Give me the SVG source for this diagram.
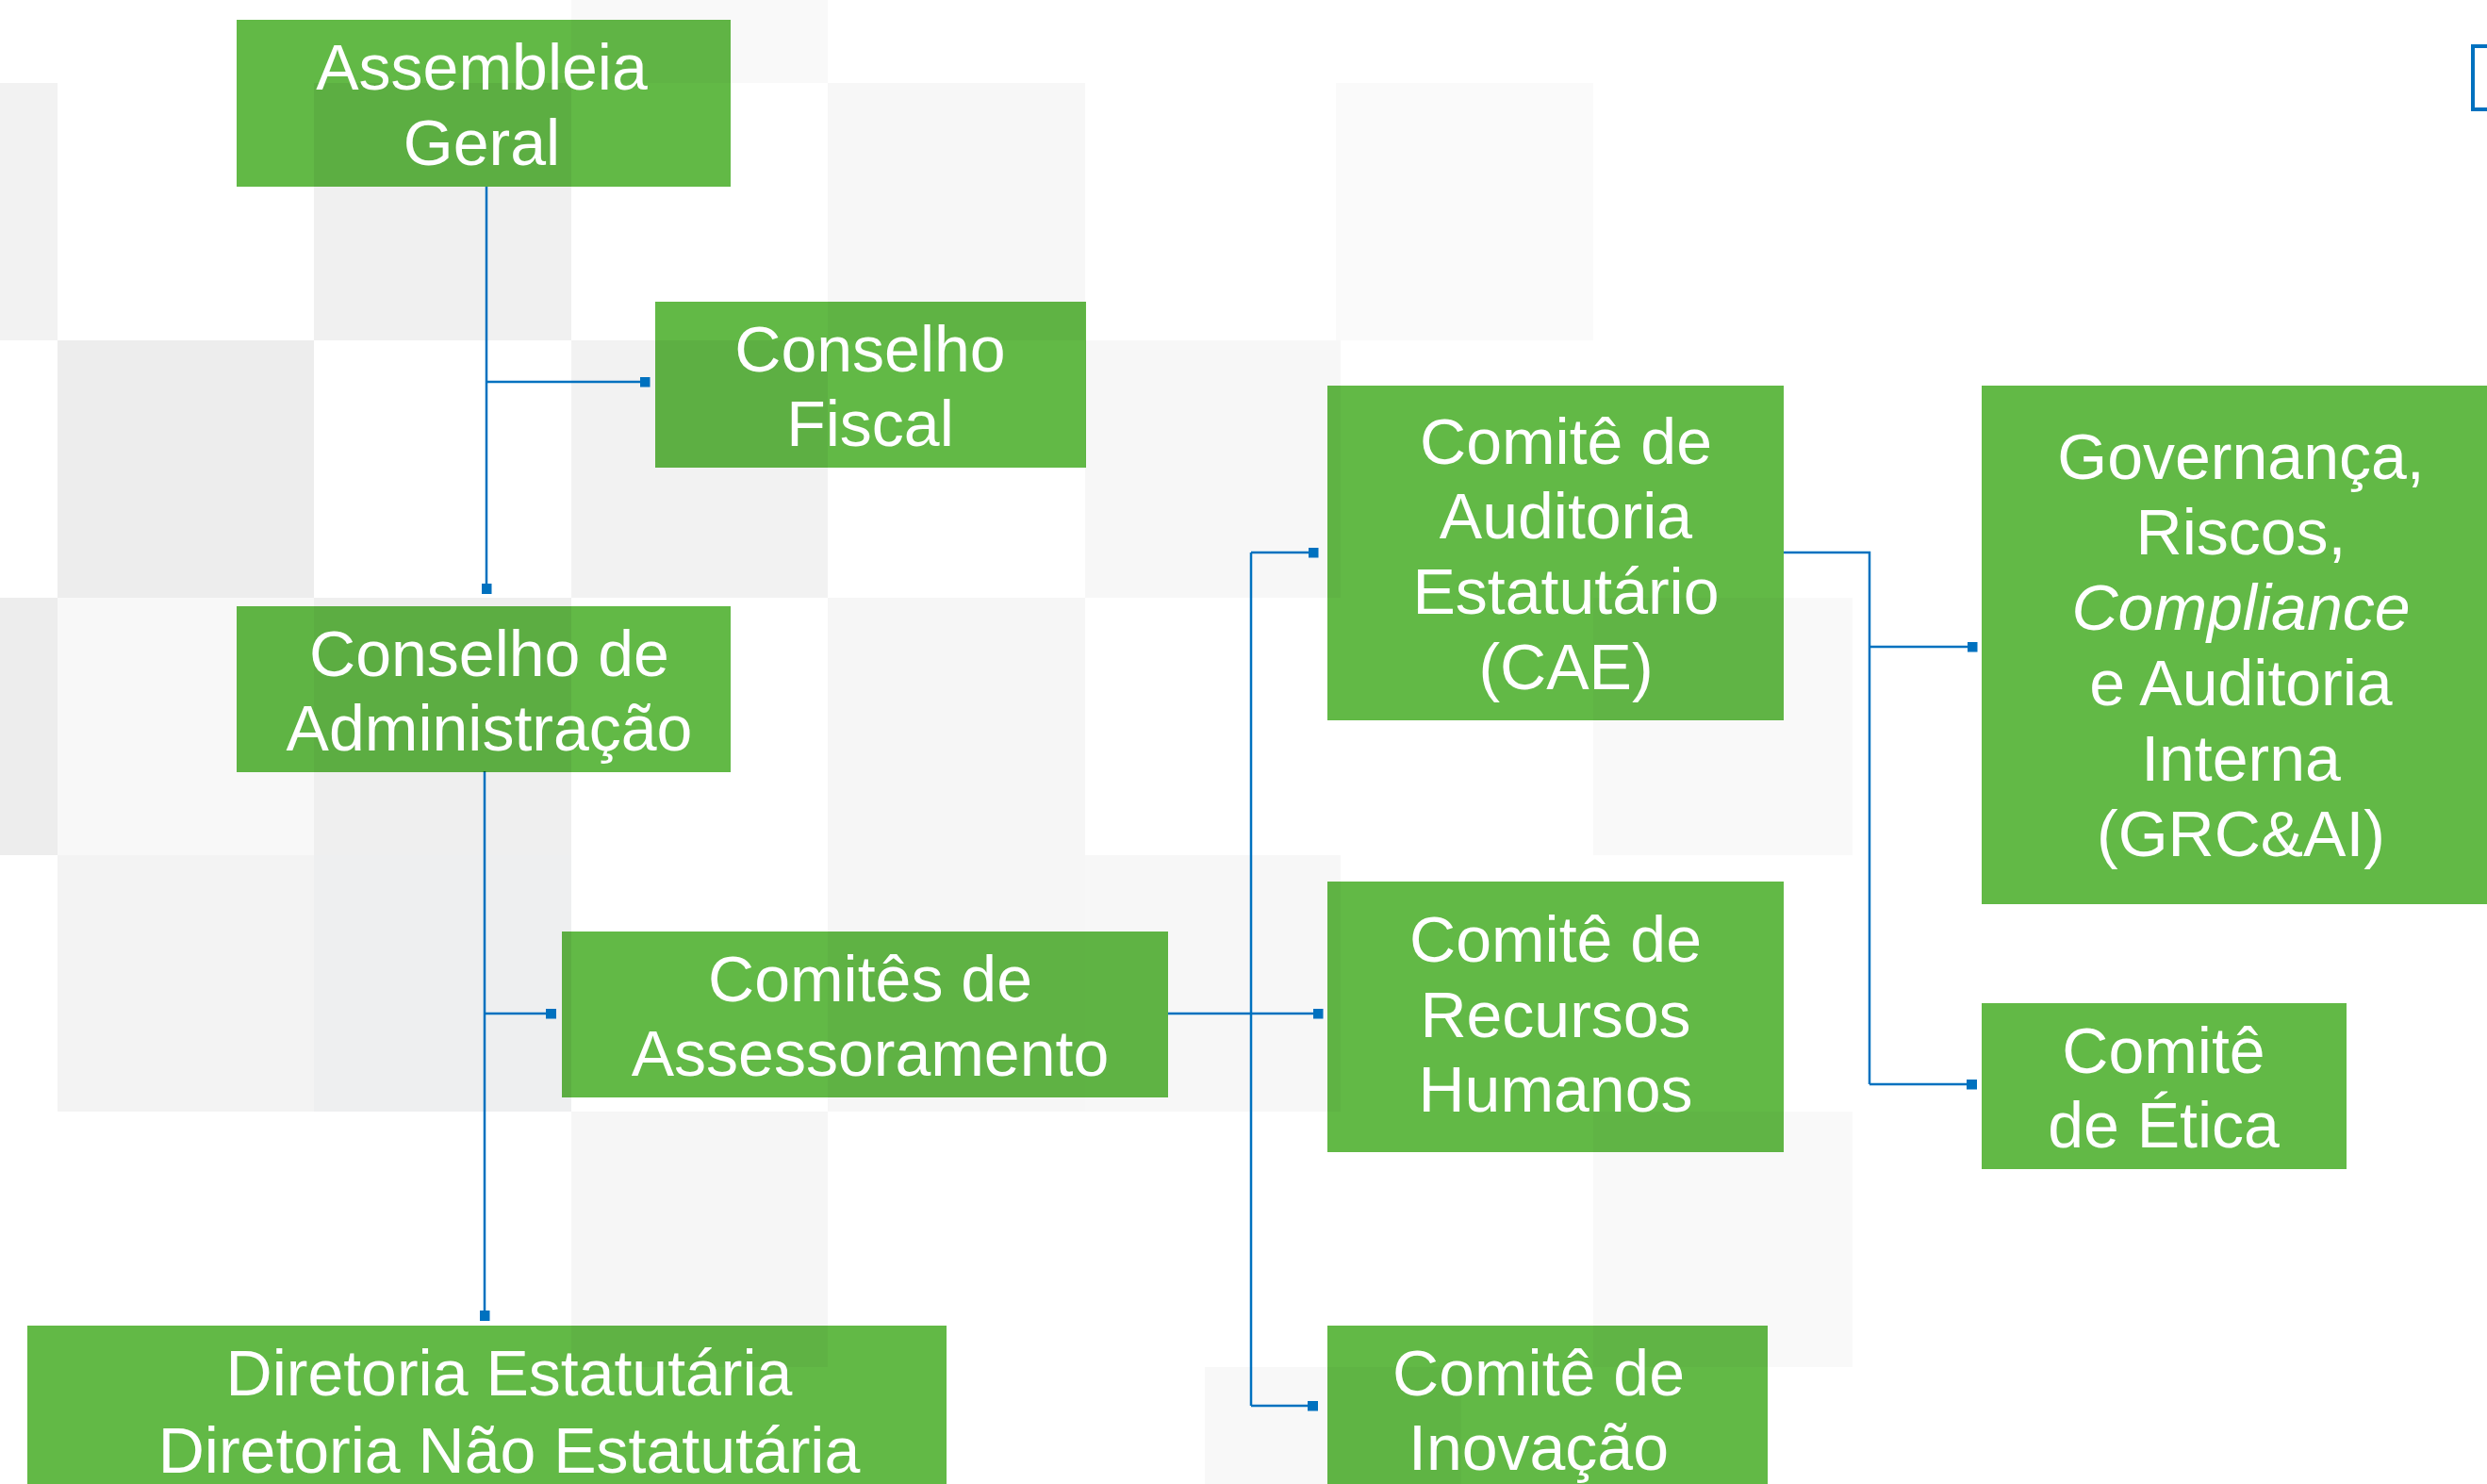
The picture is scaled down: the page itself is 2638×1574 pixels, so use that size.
<svg xmlns="http://www.w3.org/2000/svg" width="2638" height="1574" viewBox="0 0 2638 1574">
<defs>
<style>
.box{fill:#62b946;mix-blend-mode:multiply}
.t{font-family:"Liberation Sans",Arial,sans-serif;font-size:68px;fill:#ffffff;text-anchor:middle}
.c{fill:none;stroke:#0071bf;stroke-width:2.5}
</style>
<marker id="sq" markerUnits="userSpaceOnUse" markerWidth="11" markerHeight="11" refX="5.5" refY="5.5" orient="auto">
<rect x="0" y="0" width="11" height="11" fill="#0071bf"/>
</marker>
</defs>
<rect x="0" y="0" width="2638" height="1574" fill="#ffffff"/>
<g id="background">
<rect x="606" y="0" width="272" height="88" fill="#f9f9f9"/>
<rect x="0" y="88" width="61" height="273" fill="#f2f2f2"/>
<rect x="333" y="88" width="273" height="273" fill="#f0f0f0"/>
<rect x="878" y="88" width="273" height="273" fill="#f7f7f7"/>
<rect x="1417" y="88" width="273" height="273" fill="#fafafa"/>
<rect x="61" y="361" width="272" height="273" fill="#ededed"/>
<rect x="606" y="361" width="272" height="273" fill="#f2f2f2"/>
<rect x="1151" y="361" width="271" height="273" fill="#f7f7f7"/>
<rect x="0" y="634" width="61" height="273" fill="#ededed"/>
<rect x="61" y="634" width="272" height="273" fill="#f8f8f8"/>
<rect x="333" y="634" width="273" height="273" fill="#efefef"/>
<rect x="878" y="634" width="273" height="273" fill="#f6f6f6"/>
<rect x="1690" y="634" width="275" height="273" fill="#f9f9f9"/>
<rect x="61" y="907" width="272" height="272" fill="#f3f3f3"/>
<rect x="333" y="907" width="273" height="272" fill="#eeeff0"/>
<rect x="878" y="907" width="273" height="272" fill="#f6f6f6"/>
<rect x="1151" y="907" width="271" height="272" fill="#f7f7f7"/>
<rect x="606" y="1179" width="272" height="271" fill="#f6f6f6"/>
<rect x="1690" y="1179" width="275" height="271" fill="#f9f9f9"/>
<rect x="1278" y="1450" width="272" height="124" fill="#f8f8f8"/>
<rect x="2623" y="49" width="40" height="67" fill="none" stroke="#0071bf" stroke-width="4"/>
</g>
<g id="connectors">
<path class="c" d="M516 198V624.5" marker-end="url(#sq)"/>
<path class="c" d="M516 405H684" marker-end="url(#sq)"/>
<path class="c" d="M514 818V1395.5" marker-end="url(#sq)"/>
<path class="c" d="M514 1075H584.5" marker-end="url(#sq)"/>
<path class="c" d="M1239 1075H1398" marker-end="url(#sq)"/>
<path class="c" d="M1327 586V1491"/>
<path class="c" d="M1327 586H1393" marker-end="url(#sq)"/>
<path class="c" d="M1327 1491H1392.5" marker-end="url(#sq)"/>
<path class="c" d="M1892 586H1983V1150"/>
<path class="c" d="M1983 686H2092" marker-end="url(#sq)"/>
<path class="c" d="M1983 1150H2091.5" marker-end="url(#sq)"/>
</g>
<g id="assembleia">
<rect class="box" x="251" y="21" width="524" height="177"/>
<text class="t" x="511" y="95">Assembleia</text>
<text class="t" x="511" y="175">Geral</text>
</g>
<g id="conselho-fiscal">
<rect class="box" x="695" y="320" width="457" height="176"/>
<text class="t" x="923" y="394">Conselho</text>
<text class="t" x="923" y="473">Fiscal</text>
</g>
<g id="conselho-administracao">
<rect class="box" x="251" y="643" width="524" height="176"/>
<text class="t" x="519" y="717">Conselho de</text>
<text class="t" x="519" y="796">Administração</text>
</g>
<g id="comites-assessoramento">
<rect class="box" x="596" y="988" width="643" height="176"/>
<text class="t" x="923" y="1062">Comitês de</text>
<text class="t" x="923" y="1141">Assessoramento</text>
</g>
<g id="diretoria">
<rect class="box" x="29" y="1406" width="975" height="190"/>
<text class="t" x="540" y="1480">Diretoria Estatutária</text>
<text class="t" x="540" y="1562">Diretoria Não Estatutária</text>
</g>
<g id="cae">
<rect class="box" x="1408" y="409" width="484" height="355"/>
<text class="t" x="1661" y="492">Comitê de</text>
<text class="t" x="1661" y="571">Auditoria</text>
<text class="t" x="1661" y="651">Estatutário</text>
<text class="t" x="1661" y="731">(CAE)</text>
</g>
<g id="rh">
<rect class="box" x="1408" y="935" width="484" height="287"/>
<text class="t" x="1650" y="1020">Comitê de</text>
<text class="t" x="1650" y="1100">Recursos</text>
<text class="t" x="1650" y="1179">Humanos</text>
</g>
<g id="inovacao">
<rect class="box" x="1408" y="1406" width="467" height="190"/>
<text class="t" x="1632" y="1480">Comitê de</text>
<text class="t" x="1632" y="1559">Inovação</text>
</g>
<g id="grc">
<rect class="box" x="2102" y="409" width="550" height="550"/>
<text class="t" x="2377" y="508">Governança,</text>
<text class="t" x="2377" y="588">Riscos,</text>
<text class="t" x="2377" y="668" font-style="italic">Compliance</text>
<text class="t" x="2377" y="748">e Auditoria</text>
<text class="t" x="2377" y="828">Interna</text>
<text class="t" x="2377" y="908">(GRC&amp;AI)</text>
</g>
<g id="etica">
<rect class="box" x="2102" y="1064" width="387" height="176"/>
<text class="t" x="2295" y="1138">Comitê</text>
<text class="t" x="2295" y="1217">de Ética</text>
</g>
</svg>
